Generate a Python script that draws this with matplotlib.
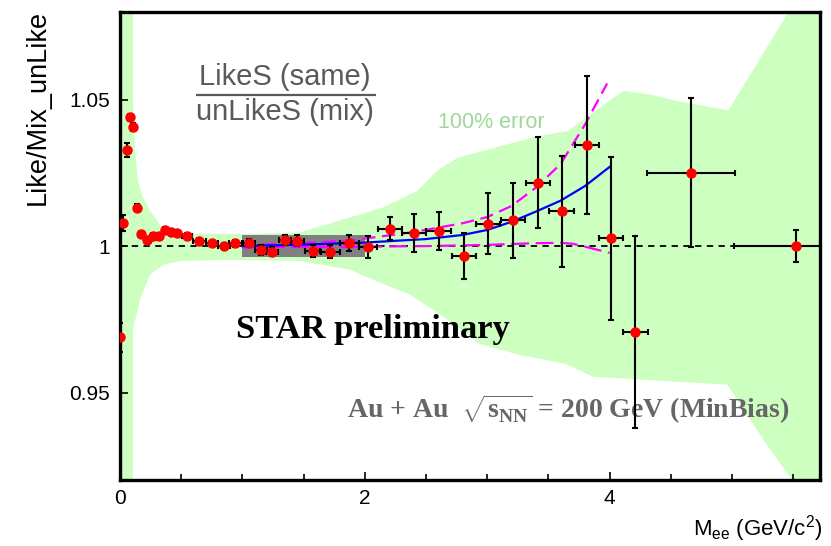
import numpy as np
import matplotlib
matplotlib.use("Agg")
import matplotlib.pyplot as plt

plt.rcParams['mathtext.fontset'] = 'custom'
plt.rcParams['mathtext.rm'] = 'Liberation Sans'
plt.rcParams['mathtext.bf'] = 'Liberation Serif:bold'

# ---------------- data ----------------
mass = [0.0, 0.022, 0.055, 0.082, 0.109, 0.136, 0.174, 0.218, 0.267, 0.322, 0.371,
        0.420, 0.469, 0.545, 0.649, 0.752, 0.850, 0.943, 1.052, 1.150, 1.245, 1.350,
        1.450, 1.575, 1.720, 1.875, 2.025, 2.208, 2.404, 2.603, 2.813, 3.006, 3.210,
        3.415, 3.608, 3.816, 4.012, 4.211, 4.666, 5.520]
ratio = [0.9688, 1.0079, 1.0328, 1.0439, 1.0406, 1.0131, 1.0041, 1.0020, 1.0034, 1.0034, 1.0054,
         1.0047, 1.0043, 1.0036, 1.0016, 1.0009, 1.0000, 1.0009, 1.0011, 0.9986, 0.9981, 1.0020,
         1.0019, 0.9982, 0.9981, 1.0011, 0.9998, 1.0060, 1.0045, 1.0052, 0.9966, 1.0077, 1.0088,
         1.0217, 1.0119, 1.0345, 1.0027, 0.9707, 1.0251, 1.0000]
ratio_err = [0.0048, 0.0026, 0.0023, 0.0012, 0.0013, 0.0012, 0.0010, 0.0010, 0.0010, 0.0010, 0.0010,
             0.0010, 0.0010, 0.0010, 0.0010, 0.0010, 0.0010, 0.0012, 0.0014, 0.0016, 0.0016, 0.0018,
             0.0018, 0.0020, 0.0022, 0.0028, 0.0038, 0.0040, 0.0065, 0.0066, 0.0080, 0.0103, 0.0128,
             0.0156, 0.0190, 0.0234, 0.0278, 0.0327, 0.0255, 0.0056]
mass_err_lo = [0.0, 0.0, 0.0, 0.0, 0.0, 0.0, 0.0, 0.0, 0.0, 0.0, 0.0,
               0.0, 0.0, 0.04, 0.05, 0.05, 0.05, 0.05, 0.05, 0.05, 0.05, 0.05,
               0.05, 0.06, 0.08, 0.075, 0.075, 0.1, 0.1, 0.1, 0.1, 0.1, 0.1,
               0.1, 0.1, 0.1, 0.1, 0.1, 0.36, 0.50]
mass_err_hi = [0.0, 0.0, 0.0, 0.0, 0.0, 0.0, 0.0, 0.0, 0.0, 0.0, 0.0,
               0.0, 0.0, 0.04, 0.05, 0.05, 0.05, 0.05, 0.05, 0.05, 0.05, 0.05,
               0.05, 0.06, 0.08, 0.075, 0.075, 0.1, 0.1, 0.1, 0.1, 0.1, 0.1,
               0.1, 0.1, 0.1, 0.1, 0.1, 0.36, 0.20]

# 100% error band edges
band_up_x = [0.0, 0.106, 0.106, 0.123, 0.147, 0.180, 0.245, 0.352, 0.450, 1.006, 1.472,
             1.881, 2.150, 2.428, 2.592, 2.756, 3.410, 3.655, 4.113, 4.334, 4.579, 4.971,
             5.446, 5.610, 5.720]
band_up_y = [1.09, 1.09, 1.0493, 1.0324, 1.0223, 1.0172, 1.0122, 1.0057, 1.0044, 1.0041, 1.0047,
             1.0098, 1.0132, 1.0189, 1.0257, 1.0301, 1.0375, 1.0392, 1.0530, 1.0517, 1.0493, 1.0463,
             1.0787, 1.09, 1.09]
band_lo_x = [0.0, 0.106, 0.106, 0.164, 0.245, 0.352, 0.491, 0.875, 1.472, 1.881, 2.126,
             2.371, 2.674, 2.944, 3.271, 3.639, 3.868, 4.963, 5.249, 5.478, 5.660, 5.720]
band_lo_y = [0.91, 0.91, 0.9716, 0.9818, 0.9902, 0.9936, 0.9949, 0.9953, 0.9949, 0.9919, 0.9875,
             0.9834, 0.9750, 0.9665, 0.9628, 0.9598, 0.9554, 0.9527, 0.9344, 0.9209, 0.91, 0.91]

# model curves
blue_x = [1.0, 1.5, 2.0, 2.5, 2.8, 3.0, 3.2, 3.4, 3.6, 3.8, 4.0]
blue_y = [1.0000, 1.0005, 1.0012, 1.0024, 1.0038, 1.0055, 1.0083, 1.0118, 1.0155, 1.0205, 1.0270]
mag_up_x = [1.0, 1.5, 1.9, 2.4, 2.8, 3.0, 3.2, 3.4, 3.6, 3.8, 3.98]
mag_up_y = [1.0003, 1.0010, 1.0020, 1.0048, 1.0078, 1.0099, 1.0137, 1.0200, 1.0280, 1.0415, 1.0555]
mag_lo_x = [1.0, 1.5, 2.0, 2.5, 3.0, 3.4, 3.6, 3.7, 3.8, 4.0]
mag_lo_y = [0.9996, 0.9997, 0.9998, 1.0000, 1.0004, 1.0010, 1.0011, 1.0008, 0.9998, 0.9977]

# normalization region box
box_x = [1.0, 2.0]
box_y = [0.9962, 1.0038]

XMAX = 5.72
# ---------------- figure ----------------
fig = plt.figure(figsize=(8.31, 5.46), dpi=100)
ax = fig.add_axes([0.1444, 0.12, 0.9868 - 0.1444, 0.9786 - 0.12])

band_x = list(band_up_x) + list(band_lo_x[::-1])
band_y = list(band_up_y) + list(band_lo_y[::-1])
ax.fill(band_x, band_y, color='#ccffc0', lw=0, zorder=1)

ax.plot([0, XMAX], [1, 1], color='black', lw=1.3, ls=(0, (3.5, 3)), zorder=2)

ax.add_patch(plt.Rectangle((box_x[0], box_y[0]), box_x[1] - box_x[0], box_y[1] - box_y[0],
                           facecolor='#808080', edgecolor='none', zorder=3))

ax.plot(mag_lo_x, mag_lo_y, color='#ff00ff', lw=1.6, ls=(0, (8, 3)), zorder=4)
ax.plot(mag_up_x, mag_up_y, color='#ff00ff', lw=1.6, ls=(0, (6, 3)), zorder=4)
ax.plot(blue_x, blue_y, color='#0000ff', lw=1.6, zorder=4)

ax.errorbar(mass, ratio, yerr=ratio_err, xerr=[mass_err_lo, mass_err_hi], fmt='o',
            color='black', ecolor='black', elinewidth=1.5, capsize=2.5, capthick=1.5,
            markerfacecolor='#ff0000', markeredgecolor='#ff0000', markersize=6.5, zorder=5)

ax.set_xlim(0, XMAX)
ax.set_ylim(0.92, 1.08)
ax.set_xticks([0, 2, 4])
ax.set_xticklabels(['0', '2', '4'])
ax.set_xticks([0.5, 1, 1.5, 2.5, 3, 3.5, 4.5, 5, 5.5], minor=True)
ax.set_yticks([0.95, 1.0, 1.05])
ax.set_yticklabels(['0.95', '1', '1.05'])
ax.tick_params(axis='both', which='major', direction='in', length=6, width=1.2,
               labelsize=15, pad=6)
ax.tick_params(axis='x', which='minor', direction='in', length=4, width=1.2)
ax.tick_params(axis='y', which='major', pad=7)
for lab in ax.get_xticklabels() + ax.get_yticklabels():
    lab.set_family('Liberation Sans')
for sp in ax.spines.values():
    sp.set_linewidth(2.4)

# axis titles
fig.text(0.046, 0.981, 'Like/Mix_unLike', rotation=90, ha='center', va='top',
         fontsize=19.5, family='Liberation Sans')
fig.text(0.990, 0.02, 'M$_{\\mathrm{ee}}$ (GeV/c$^{\\mathrm{2}}$)', ha='right', va='baseline',
         fontsize=16, family='Liberation Sans')

# annotations
ax.text(1.35, 1.0578, 'LikeS (same)', ha='center', va='center', fontsize=21,
        family='Liberation Sans', color='#5a5a5a')
ax.text(1.35, 1.0456, 'unLikeS (mix)', ha='center', va='center', fontsize=21,
        family='Liberation Sans', color='#5a5a5a')
ax.plot([0.62, 2.09], [1.0516, 1.0516], color='#5a5a5a', lw=1.6, solid_capstyle='butt')
ax.text(3.03, 1.0422, '100% error', ha='center', va='center', fontsize=15.5,
        family='Liberation Sans', color='#9ed898')
ax.text(2.07, 0.9715, 'STAR preliminary', ha='center', va='center', fontsize=24.8,
        family='Liberation Serif', weight='bold', color='black')
ax.text(1.856, 0.9445, 'Au + Au  $\\sqrt{\\mathbf{s}_{\\mathbf{NN}}}$ = 200 GeV (MinBias)',
        ha='left', va='center', fontsize=20, family='Liberation Serif', weight='bold',
        color='#666666')

fig.savefig('out.png', dpi=100)
